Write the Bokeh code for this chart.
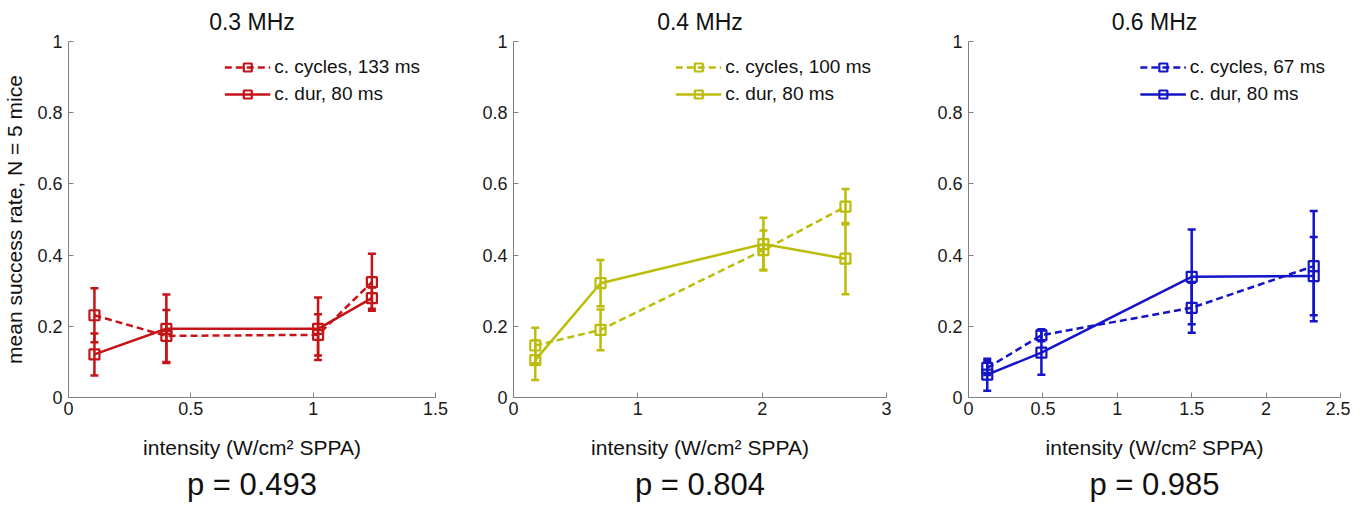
from bokeh.plotting import figure
from bokeh.layouts import row
from bokeh.models import (ColumnDataSource, Whisker, TeeHead, Range1d,
                          FixedTicker, Title, Legend)
from bokeh.embed import file_html
from bokeh.resources import INLINE

# ---------------- data ----------------
titles = ["0.3 MHz", "0.4 MHz", "0.6 MHz"]
p_values = ["p = 0.493", "p = 0.804", "p = 0.985"]
cyc_labels = ["c. cycles, 133 ms", "c. cycles, 100 ms", "c. cycles, 67 ms"]
dur_labels = ["c. dur, 80 ms", "c. dur, 80 ms", "c. dur, 80 ms"]
colors = ["#c41418", "#bcbc0a", "#1414c8"]

x_max = [1.5, 3.0, 2.5]
x_ticks = [[0, 0.5, 1, 1.5], [0, 1, 2, 3], [0, 0.5, 1, 1.5, 2, 2.5]]
x_tick_labels = [["0", "0.5", "1", "1.5"], ["0", "1", "2", "3"],
                 ["0", "0.5", "1", "1.5", "2", "2.5"]]
y_ticks = [0, 0.2, 0.4, 0.6, 0.8, 1.0]
y_tick_labels = ["0", "0.2", "0.4", "0.6", "0.8", "1"]

# 0.3 MHz
x_03 = [0.106, 0.40, 1.02, 1.24]
cyc_03 = [0.231, 0.173, 0.176, 0.324]
cyc_err_03 = [0.076, 0.073, 0.058, 0.080]
dur_03 = [0.121, 0.193, 0.193, 0.279]
dur_err_03 = [0.059, 0.096, 0.088, 0.030]

# 0.4 MHz
x_04 = [0.175, 0.70, 2.01, 2.67]
cyc_04 = [0.146, 0.190, 0.414, 0.536]
cyc_err_04 = [0.050, 0.057, 0.055, 0.050]
dur_04 = [0.105, 0.321, 0.431, 0.390]
dur_err_04 = [0.056, 0.065, 0.074, 0.100]

# 0.6 MHz
x_06 = [0.126, 0.49, 1.50, 2.32]
cyc_06 = [0.083, 0.175, 0.252, 0.369]
cyc_err_06 = [0.020, 0.017, 0.070, 0.155]
dur_06 = [0.064, 0.126, 0.339, 0.341]
dur_err_06 = [0.045, 0.062, 0.133, 0.110]

panels = [
    (x_03, cyc_03, cyc_err_03, dur_03, dur_err_03),
    (x_04, cyc_04, cyc_err_04, dur_04, dur_err_04),
    (x_06, cyc_06, cyc_err_06, dur_06, dur_err_06),
]

FONT = "Liberation Sans"
frame_w = [367, 373, 372]
border_l = [66, 58, 60]
border_r = [20, 22, 10]

figs = []
for i, (xs, yc, ec, yd, ed) in enumerate(panels):
    c = colors[i]
    p = figure(frame_width=frame_w[i], frame_height=356,
               min_border_left=border_l[i], min_border_right=border_r[i],
               min_border_top=41, min_border_bottom=100,
               x_range=Range1d(0, x_max[i]), y_range=Range1d(0, 1),
               output_backend="svg", toolbar_location=None,
               background_fill_color="white", border_fill_color="white")
    p.outline_line_color = None
    p.grid.visible = False

    p.title.text = titles[i]
    p.title.align = "center"
    p.title.vertical_align = "top"
    p.title.text_font = FONT
    p.title.text_font_size = "23px"
    p.title.text_font_style = "normal"
    p.title.text_color = "#111111"

    for ax in (p.xaxis[0], p.yaxis[0]):
        ax.axis_line_color = "#808080"
        ax.major_tick_line_color = "#808080"
        ax.major_tick_in = 5
        ax.major_tick_out = 0
        ax.minor_tick_line_color = None
        ax.major_label_text_font = FONT
        ax.major_label_text_font_size = "18px"
        ax.major_label_text_color = "#1a1a1a"
        ax.major_label_standoff = 6
        ax.axis_label_text_font = FONT
        ax.axis_label_text_font_style = "normal"
        ax.axis_label_text_color = "#111111"

    p.xaxis.major_label_standoff = 4
    p.xaxis.ticker = FixedTicker(ticks=x_ticks[i])
    p.xaxis.major_label_overrides = {t: l for t, l in zip(x_ticks[i], x_tick_labels[i])}
    p.yaxis.ticker = FixedTicker(ticks=y_ticks)
    p.yaxis.major_label_overrides = {t: l for t, l in zip(y_ticks, y_tick_labels)}

    p.xaxis.axis_label = "intensity (W/cm\u00b2 SPPA)"
    p.xaxis.axis_label_text_font_size = "21px"
    p.xaxis.axis_label_standoff = 18
    if i == 0:
        p.yaxis.axis_label = "mean success rate, N = 5 mice"
        p.yaxis.axis_label_text_font_size = "21px"
        p.yaxis.axis_label_standoff = 8

    # error bars
    src_c = ColumnDataSource(dict(x=xs, lo=[a - b for a, b in zip(yc, ec)],
                                  up=[a + b for a, b in zip(yc, ec)]))
    src_d = ColumnDataSource(dict(x=xs, lo=[a - b for a, b in zip(yd, ed)],
                                  up=[a + b for a, b in zip(yd, ed)]))
    for src in (src_c, src_d):
        w = Whisker(source=src, base="x", lower="lo", upper="up",
                    line_color=c, line_width=2.5,
                    upper_head=TeeHead(size=8, line_color=c, line_width=2.5),
                    lower_head=TeeHead(size=8, line_color=c, line_width=2.5))
        p.add_layout(w)

    r1 = p.line(xs, yc, line_color=c, line_width=2.5, line_dash="7 4")
    s1 = p.scatter(xs, yc, marker="square", size=10, line_color=c,
                   line_width=2.2, fill_alpha=0)
    r2 = p.line(xs, yd, line_color=c, line_width=2.5)
    s2 = p.scatter(xs, yd, marker="square", size=10, line_color=c,
                   line_width=2.2, fill_alpha=0)

    legend = Legend(items=[(cyc_labels[i], [r1, s1]), (dur_labels[i], [r2, s2])],
                    location="top_right")
    legend.label_text_font = FONT
    legend.label_text_font_size = "19px"
    legend.label_text_color = "#111111"
    legend.glyph_width = 46
    legend.glyph_height = 20
    legend.label_height = 20
    legend.label_standoff = 4
    legend.spacing = 5
    legend.padding = 0
    legend.margin = 15
    legend.border_line_alpha = 0
    legend.background_fill_alpha = 0
    p.add_layout(legend)

    pt = Title(text=p_values[i], align="center", text_font=FONT,
               text_font_size="31px", text_font_style="normal",
               text_color="#111111", standoff=6, offset=0)
    p.add_layout(pt, "below")

    figs.append(p)

layout = row(*figs)
open("out.html", "w").write(file_html(layout, INLINE))
